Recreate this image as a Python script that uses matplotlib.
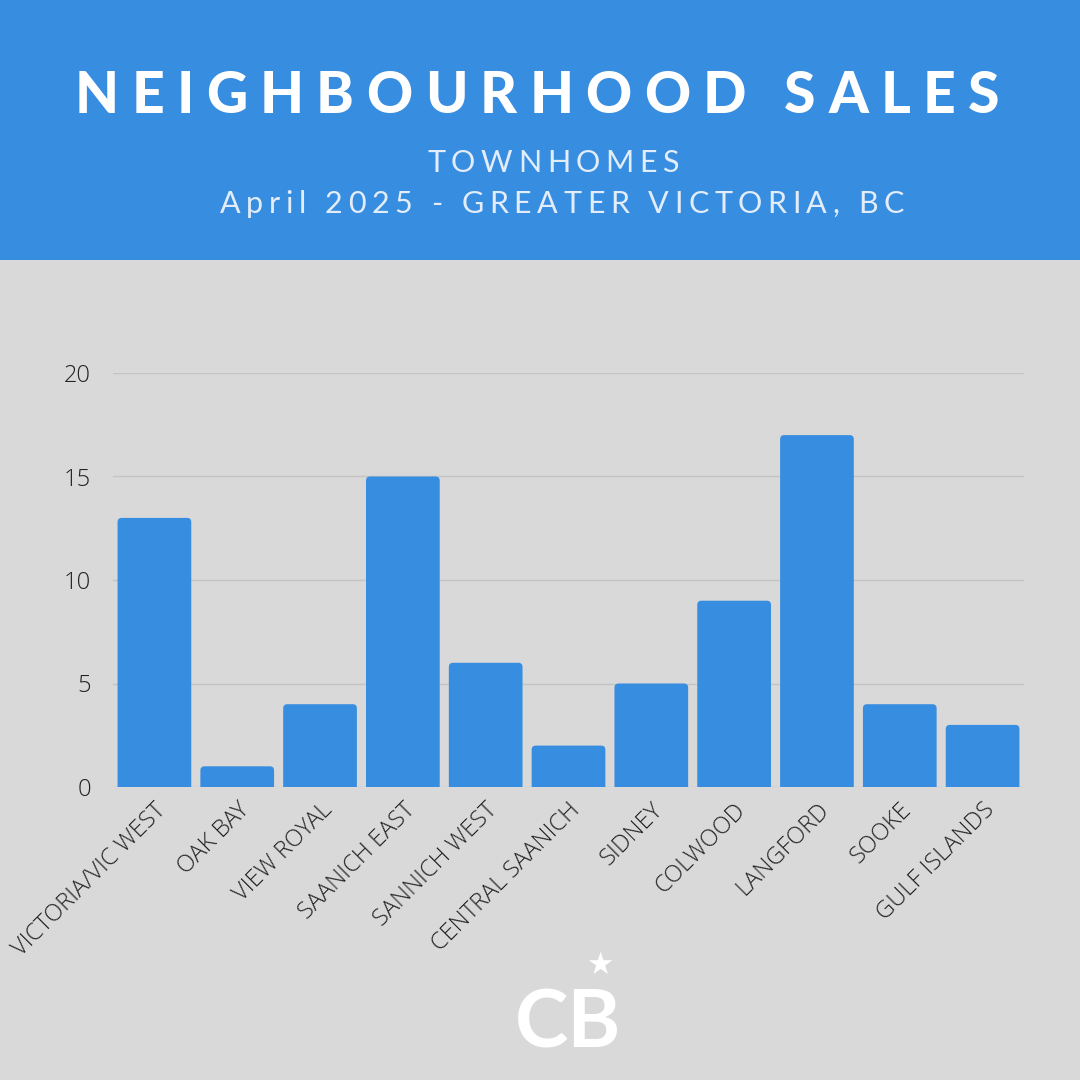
import matplotlib
matplotlib.use("Agg")
import matplotlib.pyplot as plt
from matplotlib.font_manager import FontProperties
from matplotlib.patches import FancyBboxPatch, Rectangle

# data
areas = ["VICTORIA/VIC WEST", "OAK BAY", "VIEW ROYAL", "SAANICH EAST", "SANNICH WEST",
         "CENTRAL SAANICH", "SIDNEY", "COLWOOD", "LANGFORD", "SOOKE", "GULF ISLANDS"]
sales = [13, 1, 4, 15, 6, 2, 5, 9, 17, 4, 3]
yticks = [0, 5, 10, 15, 20]

BLUE = "#378de0"
BG = "#d9d9d9"

fig = plt.figure(figsize=(10.8, 10.8), dpi=100, facecolor=BG)
W, H = 1080, 1080

# header band
fig.patches.append(Rectangle((0, 1 - 260 / H), 1, 260 / H, transform=fig.transFigure,
                             facecolor=BLUE, edgecolor="none", zorder=0))

renderer = fig.canvas.get_renderer()


def spaced(s, xc, y, fp, track, color):
    # letter spaced text centred on xc, baseline at y (pixels from top)
    widths = [renderer.get_text_width_height_descent(c, fp, ismath=False)[0] for c in s]
    total = sum(widths) + track * (len(s) - 1)
    x = xc - total / 2
    for c, w in zip(s, widths):
        fig.text(x / W, 1 - y / H, c, fontproperties=fp, color=color,
                 ha="left", va="baseline")
        x += w + track


title_fp = FontProperties(family="Lato", weight="black", size=41)
sub_fp = FontProperties(family="Lato", weight="normal", size=22)
spaced("NEIGHBOURHOOD SALES", 537, 113, title_fp, 12.3, "white")
spaced("TOWNHOMES", 553, 172, sub_fp, 5.5, "#e3edf9")
spaced("April 2025 - GREATER VICTORIA, BC", 562, 213, sub_fp, 5.6, "#e3edf9")

# chart
ax = fig.add_axes([113 / W, 1 - 787 / H, (1024 - 113) / W, (787 - 373) / H])
ax.set_facecolor(BG)
x = range(len(areas))
bars = ax.bar(x, sales, width=0.89, color=BLUE, zorder=3)
for b in bars:
    # rounded top corners; bottom goes below the axis and gets clipped
    b.set_visible(False)
    ax.add_patch(FancyBboxPatch((b.get_x(), -1), b.get_width(), b.get_height() + 1,
                                boxstyle="round,pad=0,rounding_size=0.05",
                                mutation_aspect=4,
                                facecolor=BLUE, edgecolor="none", zorder=3))
ax.set_xlim(-0.5, len(areas) - 0.5)
ax.set_ylim(0, 20)
ax.set_yticks(yticks)
ax.yaxis.grid(True, color="#c4c4c4", linewidth=1, zorder=0)
for s in ax.spines.values():
    s.set_visible(False)
ax.tick_params(length=0)
ax.tick_params(axis="y", pad=16)
ax.set_xticks(list(x))
ax.set_xticklabels(areas, rotation=45, ha="right", rotation_mode="anchor")
for lab in ax.get_xticklabels() + ax.get_yticklabels():
    lab.set_fontfamily("Open Sans")
    lab.set_fontweight("light")
    lab.set_fontsize(17)
    lab.set_color("#222222")
ax.tick_params(axis="x", pad=8)

# logo
fig.text(568 / W, 1 - 1047 / H, "CB", fontsize=58, color="white", fontweight="bold",
         family="Lato", ha="center", va="baseline")
fig.text(600 / W, 1 - 965 / H, "\u2605", fontsize=22, color="white",
         family="DejaVu Sans", ha="center", va="center")

fig.savefig("out.png", dpi=100, facecolor=BG)
